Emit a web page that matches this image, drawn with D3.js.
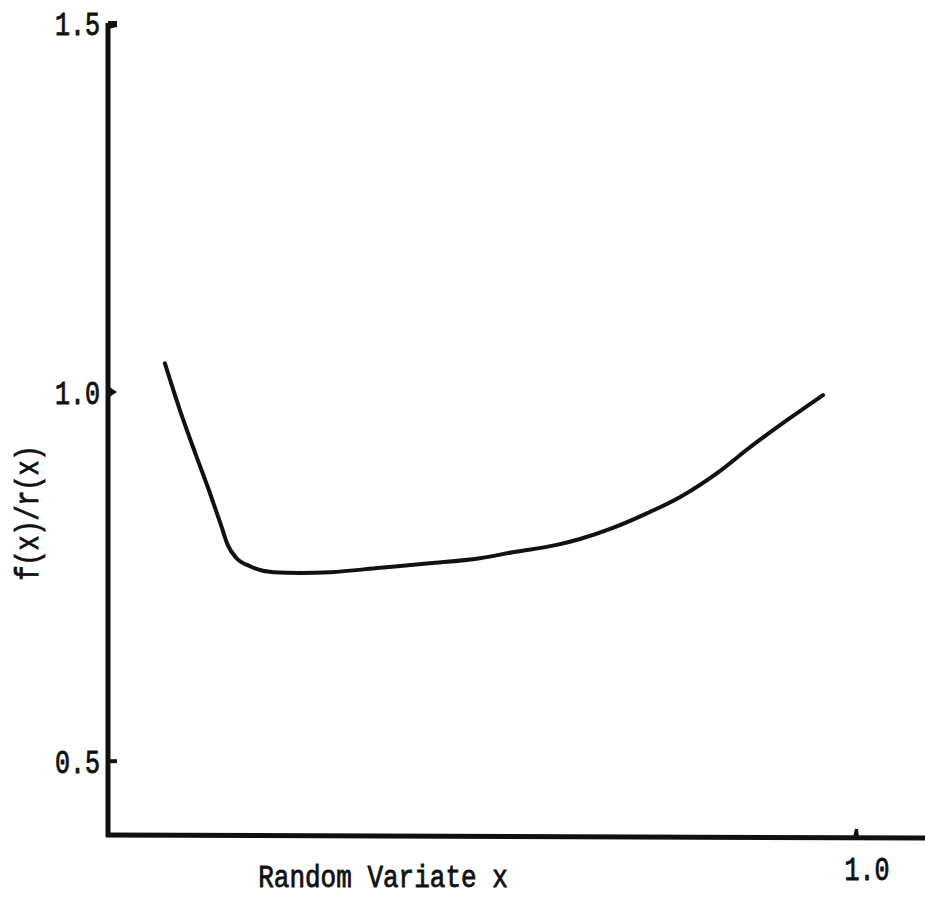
<!DOCTYPE html>
<html>
<head>
<meta charset="utf-8">
<script src="https://cdn.jsdelivr.net/npm/d3@7"></script>
<style>
  html, body { margin: 0; padding: 0; background: #fff; }
  svg text { font-family: "Liberation Mono", "DejaVu Sans Mono", monospace; fill: #111; }
</style>
</head>
<body>
<div id="chart"></div>
<script>
// Curve: x = random variate, y = f(x)/r(x)
const xs = [0.076, 0.096, 0.116, 0.136, 0.152, 0.160, 0.171, 0.190, 0.221, 0.257,
            0.297, 0.364, 0.430, 0.497, 0.541, 0.600, 0.631, 0.675, 0.721, 0.765,
            0.818, 0.858, 0.912, 0.956];
const ratio = [1.039, 0.976, 0.919, 0.864, 0.817, 0.793, 0.776, 0.764, 0.756, 0.755,
               0.756, 0.762, 0.768, 0.775, 0.783, 0.793, 0.801, 0.816, 0.836, 0.858,
               0.893, 0.925, 0.965, 0.996];
const yTicks = [0.5, 1.0, 1.5];
const xTicks = [1.0];

const W = 925, H = 898;
const x = d3.scaleLinear().domain([0, 1]).range([108, 856]);
const y = d3.scaleLinear().domain([0.4, 1.5]).range([835, 23]);

const svg = d3.select('#chart').append('svg')
  .attr('width', W).attr('height', H);

// typewriter text is taller than Liberation Mono, so stretch it vertically
function label(g, tx, ty, str, size, sy, anchor, rot) {
  const t = `translate(${tx},${ty})` + (rot ? ` rotate(${rot})` : '') + ` scale(1,${sy})`;
  return g.append('text')
    .attr('transform', t)
    .attr('text-anchor', anchor)
    .attr('font-size', size)
    .attr('stroke', '#111').attr('stroke-width', 0.7)
    .text(str);
}

// axes (hand drawn look: thick black lines)
svg.append('line')
  .attr('x1', x(0)).attr('x2', x(0))
  .attr('y1', y(0.4) + 2).attr('y2', y(1.5))
  .attr('stroke', '#111').attr('stroke-width', 5);

svg.append('line')
  .attr('x1', x(0) - 2).attr('x2', W)
  .attr('y1', y(0.4)).attr('y2', y(0.4) + 3)
  .attr('stroke', '#111').attr('stroke-width', 5);

// y ticks: small marks pointing right
const yt = svg.append('g');
yt.selectAll('path').data(yTicks).join('path')
  .attr('d', d => {
    const ty = y(d), tx = x(0);
    if (d === 1.0) return `M${tx},${ty - 6}L${tx + 9},${ty}L${tx},${ty + 6}Z`;
    if (d === 1.5) return `M${tx},${ty - 2}L${tx + 9},${ty - 2}L${tx + 9},${ty + 4}L${tx},${ty + 6}Z`;
    return `M${tx},${ty - 2}L${tx + 9},${ty - 2}L${tx + 9},${ty + 2}L${tx},${ty + 2}Z`;
  })
  .attr('fill', '#111');

yTicks.forEach(d => label(yt, x(0) - 8, y(d) + 12, d.toFixed(1), 25, 1.3, 'end'));

// x ticks: small bump pointing up
const xt = svg.append('g');
xt.selectAll('path').data(xTicks).join('path')
  .attr('d', d => {
    const tx = x(d), ty = y(0.4) + 2;
    return `M${tx - 3},${ty}L${tx - 1},${ty - 8}L${tx + 2},${ty - 8}L${tx + 3},${ty}Z`;
  })
  .attr('fill', '#111');

xTicks.forEach(d => label(xt, x(d) + 11, 880, d.toFixed(1), 25, 1.3, 'middle'));

// axis titles
label(svg, 383, 887, 'Random Variate x', 26, 1.2, 'middle');
label(svg, 38, 513, 'f(x)/r(x)', 25, 1.3, 'middle', -90);

// the curve
const pts = xs.map((v, i) => [v, ratio[i]]);
svg.append('path')
  .datum(pts)
  .attr('d', d3.line().x(d => x(d[0])).y(d => y(d[1])).curve(d3.curveMonotoneX))
  .attr('fill', 'none')
  .attr('stroke', '#111')
  .attr('stroke-width', 4)
  .attr('stroke-linecap', 'round')
  .attr('stroke-linejoin', 'round');
</script>
</body>
</html>
